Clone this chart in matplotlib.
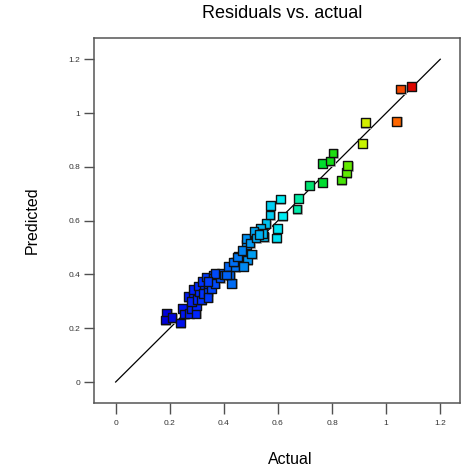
import numpy as np
import matplotlib.pyplot as plt
from matplotlib.colors import LinearSegmentedColormap, Normalize

plt.rcParams['font.family'] = ['Liberation Sans', 'DejaVu Sans']

# actual / predicted values
actual = [
    0.189, 0.185, 0.208, 0.240, 0.248, 0.252, 0.272, 0.281, 0.297, 0.299,
    0.268, 0.287, 0.281, 0.302, 0.318, 0.287, 0.309, 0.305, 0.326, 0.324,
    0.342, 0.342, 0.321, 0.342, 0.336, 0.361, 0.361, 0.355, 0.367, 0.385,
    0.391, 0.403, 0.416, 0.429, 0.423, 0.441, 0.441, 0.410, 0.367, 0.342,
    0.453, 0.487, 0.435, 0.472, 0.450, 0.503, 0.484, 0.482, 0.515, 0.549,
    0.595, 0.556, 0.536, 0.511, 0.543, 0.599, 0.570, 0.616, 0.573, 0.610,
    0.671, 0.675, 0.497, 0.519, 0.530, 0.467,
    0.716, 0.765, 0.835, 0.854, 0.858, 0.765, 0.792, 0.803, 0.913, 0.924,
    1.039, 1.054, 1.094,
]
predicted = [
    0.255, 0.230, 0.239, 0.220, 0.274, 0.253, 0.255, 0.271, 0.255, 0.283,
    0.317, 0.320, 0.299, 0.307, 0.305, 0.345, 0.336, 0.357, 0.361, 0.330,
    0.336, 0.315, 0.373, 0.367, 0.391, 0.398, 0.386, 0.348, 0.367, 0.386,
    0.404, 0.398, 0.429, 0.367, 0.398, 0.427, 0.447, 0.398, 0.404, 0.373,
    0.466, 0.454, 0.447, 0.429, 0.464, 0.476, 0.512, 0.534, 0.550, 0.540,
    0.536, 0.590, 0.571, 0.559, 0.553, 0.571, 0.621, 0.617, 0.656, 0.680,
    0.643, 0.683, 0.517, 0.535, 0.549, 0.490,
    0.730, 0.742, 0.751, 0.778, 0.804, 0.813, 0.822, 0.852, 0.887, 0.964,
    0.968, 1.090, 1.098,
]
ticks = [0, 0.2, 0.4, 0.6, 0.8, 1, 1.2]
tick_labels = ['0', '0.2', '0.4', '0.6', '0.8', '1', '1.2']

# colour ramp blue -> cyan -> green -> yellow -> red, keyed on actual
vmin, vmax = 0.19, 1.10
nodes = [
    (0.19, (0.0, 0.0, 0.86)),
    (0.30, (0.0, 0.15, 1.0)),
    (0.45, (0.0, 0.47, 0.95)),
    (0.55, (0.0, 0.75, 0.95)),
    (0.62, (0.0, 0.95, 0.95)),
    (0.68, (0.0, 0.92, 0.62)),
    (0.78, (0.0, 0.85, 0.1)),
    (0.86, (0.4, 0.92, 0.0)),
    (0.92, (0.82, 0.96, 0.0)),
    (1.04, (1.0, 0.4, 0.0)),
    (1.10, (0.86, 0.0, 0.0)),
]
cmap = LinearSegmentedColormap.from_list(
    'de', [((v - vmin) / (vmax - vmin), c) for v, c in nodes])

fig = plt.figure(figsize=(4.61, 4.70), dpi=100)
ax = fig.add_axes([94 / 461, 67 / 470, 366 / 461, 365 / 470])

ax.plot([0, 1.2], [0, 1.2], color='black', lw=0.9, zorder=2)

# drop shadow then the coloured squares
ax.scatter(np.array(actual) + 0.003, np.array(predicted) - 0.003, marker='s',
           s=60, color='#b8b8b8', linewidths=0, zorder=3)
ax.scatter(actual, predicted, marker='s', s=38, c=actual, cmap=cmap,
           norm=Normalize(vmin, vmax), edgecolors='#101010', linewidths=1.0,
           zorder=4)

ax.set_xlim(-0.08, 1.273)
ax.set_ylim(-0.078, 1.279)
ax.set_xticks(ticks)
ax.set_xticklabels(tick_labels)
ax.set_yticks(ticks)
ax.set_yticklabels(tick_labels)
ax.tick_params(axis='x', direction='out', length=8, width=1, color='#505050',
               labelsize=6, labelcolor='#333333', pad=4)
ax.tick_params(axis='y', direction='out', length=7, width=1, color='#505050',
               labelsize=6, labelcolor='#333333', pad=3)
for s in ax.spines.values():
    s.set_color('#555555')
    s.set_linewidth(1.1)

fig.text(282 / 461, 1 - 14 / 470, 'Residuals vs. actual', ha='center',
         va='center', fontsize=13)
fig.text(290 / 461, 1 - 459 / 470, 'Actual', ha='center', va='center',
         fontsize=11.5)
fig.text(32 / 461, 1 - 220 / 470, 'Predicted', ha='center', va='center',
         rotation=90, fontsize=11.5)

fig.savefig('out.png', dpi=100)
